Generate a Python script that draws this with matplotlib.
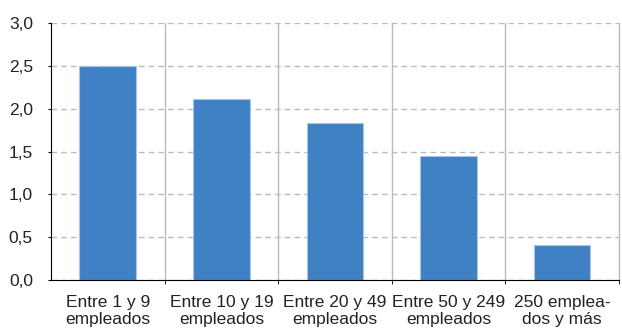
import matplotlib.pyplot as plt
from matplotlib.ticker import FuncFormatter, FixedLocator

plt.rcParams['font.family'] = ['Liberation Sans', 'DejaVu Sans']

categories = ["Entre 1 y 9\nempleados", "Entre 10 y 19\nempleados",
              "Entre 20 y 49\nempleados", "Entre 50 y 249\nempleados",
              "250 emplea-\ndos y más"]
values = [2.50, 2.11, 1.83, 1.45, 0.41]

fig = plt.figure(figsize=(6.22, 3.29), dpi=100)
ax = fig.add_axes([0.082, 0.149, 0.913, 0.781])

x = range(len(categories))
ax.bar(x, values, width=0.5, color="#4080C4", edgecolor="#A9C6E6", linewidth=0.8, zorder=3)

ax.set_xlim(-0.5, len(categories) - 0.5)
ax.set_ylim(0, 3.0)
ax.set_yticks([0, 0.5, 1.0, 1.5, 2.0, 2.5, 3.0])
ax.yaxis.set_major_formatter(FuncFormatter(lambda v, p: f"{v:.1f}".replace(".", ",")))
ax.yaxis.grid(True, linestyle=(0, (4, 3)), color="#BBBBBB", linewidth=1.0, zorder=0)

# category separators (last one sits on the right edge)
for b in [i + 0.5 for i in range(len(categories))]:
    ax.axvline(b, color="#BBBBBB", linewidth=1.0, zorder=1, clip_on=False)

ax.set_xticks(list(x))
ax.set_xticklabels(categories, fontsize=12.5, color="#222222", linespacing=1.2)
ax.tick_params(axis="x", length=0, pad=10.5)
ax.xaxis.set_minor_locator(FixedLocator([i + 0.5 for i in range(len(categories))]))
ax.tick_params(axis="x", which="minor", length=3, color="black")
ax.tick_params(axis="y", length=2, labelsize=12.5, labelcolor="#222222", pad=11)

for s in ["top", "right"]:
    ax.spines[s].set_visible(False)
ax.spines["left"].set_color("black")
ax.spines["bottom"].set_color("black")
ax.spines["bottom"].set_zorder(4)

fig.savefig("out.png", dpi=100)
